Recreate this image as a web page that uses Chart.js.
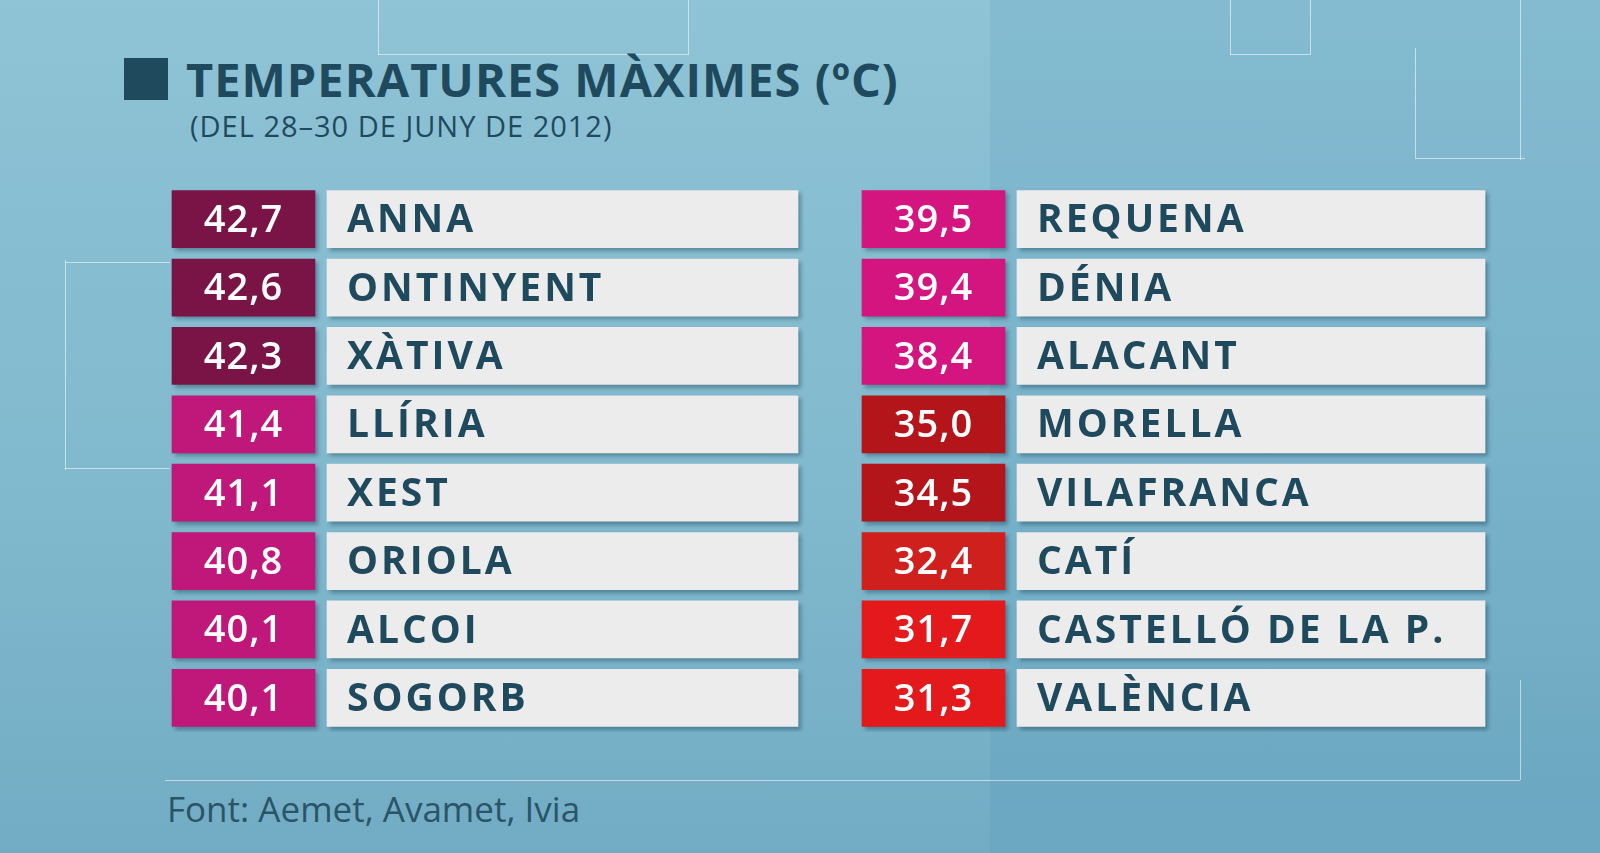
<!DOCTYPE html>
<html><head><meta charset="utf-8">
<script src="https://cdn.jsdelivr.net/npm/chart.js@4.4.1/dist/chart.umd.min.js"></script>
<style>
html,body{margin:0;padding:0;}
body{width:1600px;height:853px;overflow:hidden;position:relative;font-family:"Open Sans",sans-serif;
 background:linear-gradient(180deg,#8fc3d6 0%,#80b8cd 60%,#72acc4 100%);}
.ln{position:absolute;background:rgba(255,255,255,0.55);}
#panel{position:absolute;left:990px;top:0;width:610px;height:853px;background:rgba(60,130,170,0.12);}
#sq{position:absolute;left:124px;top:58px;width:44px;height:42px;background:#1f4a5e;}
#title{position:absolute;left:186px;top:47px;font-size:47px;font-weight:700;color:#1f4a5e;letter-spacing:1px;}
#sub{position:absolute;left:190px;top:106px;font-size:29px;color:#1f4a5e;letter-spacing:1px;}
#foot{position:absolute;left:167px;top:785px;font-size:35px;color:#2a5568;}
#wrap{position:absolute;left:0;top:185px;width:1600px;height:547px;}
</style></head><body>
<div id="panel"></div>
<div class="ln" style="left:1230px;top:0;width:1px;height:55px"></div>
<div class="ln" style="left:1230px;top:54px;width:80px;height:1px"></div>
<div class="ln" style="left:1310px;top:0;width:1px;height:55px"></div>
<div class="ln" style="left:1415px;top:48px;width:1px;height:110px"></div>
<div class="ln" style="left:1415px;top:158px;width:110px;height:1px"></div>
<div class="ln" style="left:1520px;top:0;width:1px;height:160px"></div>
<div class="ln" style="left:378px;top:0;width:1px;height:55px"></div>
<div class="ln" style="left:378px;top:54px;width:310px;height:1px"></div>
<div class="ln" style="left:688px;top:0;width:1px;height:55px"></div>
<div class="ln" style="left:65px;top:260px;width:1px;height:210px"></div>
<div class="ln" style="left:65px;top:262px;width:105px;height:1px"></div>
<div class="ln" style="left:65px;top:468px;width:105px;height:1px"></div>
<div class="ln" style="left:1520px;top:680px;width:1px;height:100px"></div>
<div class="ln" style="left:165px;top:780px;width:1355px;height:1px"></div>
<div id="sq"></div>
<div id="title">TEMPERATURES MÀXIMES (ºC)</div>
<div id="sub">(DEL 28–30 DE JUNY DE 2012)</div>
<div id="wrap"><canvas id="c"></canvas></div>
<div id="foot">Font: Aemet, Avamet, Ivia</div>
<script>
const rows = ['r1','r2','r3','r4','r5','r6','r7','r8'];
const leftNames = ['ANNA','ONTINYENT','XÀTIVA','LLÍRIA','XEST','ORIOLA','ALCOI','SOGORB'];
const leftValues = [42.7,42.6,42.3,41.4,41.1,40.8,40.1,40.1];
const leftColors = ['#7a1446','#7a1446','#7a1446','#c0177a','#c0177a','#c0177a','#c0177a','#c0177a'];
const rightNames = ['REQUENA','DÉNIA','ALACANT','MORELLA','VILAFRANCA','CATÍ','CASTELLÓ DE LA P.','VALÈNCIA'];
const rightValues = [39.5,39.4,38.4,35.0,34.5,32.4,31.7,31.3];
const rightColors = ['#d4157f','#d4157f','#d4157f','#b3151b','#b3151b','#d0201d','#e3191b','#e3191b'];

const span = (a,b) => rows.map(() => [a,b]);
const fmt = v => v.toFixed(1).replace('.', ',');

const labelPlugin = {
  id: 'labels',
  afterDatasetsDraw(chart) {
    const ctx = chart.ctx;
    chart.data.datasets.forEach((ds, di) => {
      chart.getDatasetMeta(di).data.forEach((bar, i) => {
        const p = bar.getProps(['x','base','y'], true);
        ctx.save();
        ctx.textBaseline = 'middle';
        if (ds.kind === 'value') {
          ctx.font = '600 38px "Open Sans", sans-serif';
          ctx.fillStyle = '#ffffff';
          ctx.textAlign = 'center';
          ctx.letterSpacing = '1px';
          ctx.fillText(fmt(ds.vals[i]), (p.x + p.base) / 2, p.y + 2);
        } else {
          ctx.font = '700 39px "Open Sans", sans-serif';
          ctx.fillStyle = '#1f4a5e';
          ctx.textAlign = 'left';
          ctx.letterSpacing = '3px';
          ctx.fillText(ds.names[i], Math.min(p.x, p.base) + 20, p.y + 2);
        }
        ctx.restore();
      });
    });
  }
};

const shadow = {
  id: 'shadow',
  beforeDatasetsDraw(chart) { const c = chart.ctx; c.save(); c.shadowColor = 'rgba(0,40,60,0.35)'; c.shadowOffsetX = 3; c.shadowOffsetY = 3; c.shadowBlur = 4; },
  afterDatasetsDraw(chart) { chart.ctx.restore(); }
};

new Chart(document.getElementById('c'), {
  type: 'bar',
  data: {
    labels: rows,
    datasets: [
      {kind:'value', vals:leftValues, data: span(172,315), backgroundColor: leftColors},
      {kind:'name', names:leftNames, data: span(327,798), backgroundColor: '#ececec'},
      {kind:'value', vals:rightValues, data: span(862,1005), backgroundColor: rightColors},
      {kind:'name', names:rightNames, data: span(1017,1485), backgroundColor: '#ececec'}
    ]
  },
  options: {
    indexAxis: 'y',
    responsive: true,
    maintainAspectRatio: false,
    animation: false,
    layout: {padding: 0},
    datasets: {bar: {grouped: false, barThickness: 57, borderWidth: 0}},
    scales: {
      x: {display: false, min: 0, max: 1600},
      y: {display: false}
    },
    plugins: {legend: {display: false}, tooltip: {enabled: false}}
  },
  plugins: [shadow, labelPlugin]
});
</script>
</body></html>
